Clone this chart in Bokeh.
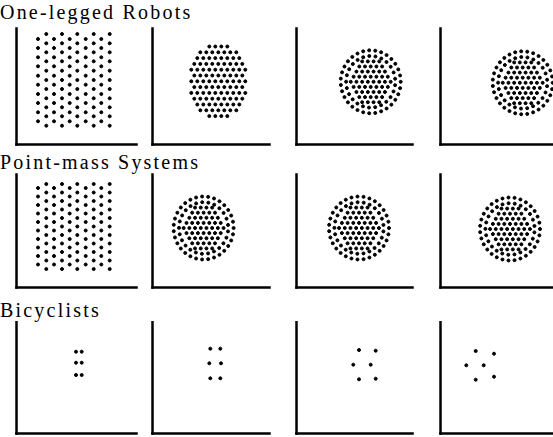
import numpy as np
from bokeh.plotting import figure
from bokeh.layouts import column, row
from bokeh.models import Div, FixedTicker, Range1d
from bokeh.embed import file_html
from bokeh.resources import INLINE

# ---------------- data ----------------
row_titles = ["One-legged Robots", "Point-mass Systems", "Bicyclists"]

# starting hexagonal grid (first panel of rows 1 and 2)
grid_col_x = [23, 31.3, 39, 47, 54.7, 62.3, 70.7, 78.7, 86.3, 94.7]
grid1_y_odd = [107, 98, 88.7, 79.7, 70.3, 61.3, 52, 43, 33.7, 24.7]
grid1_y_even = [112, 102.7, 93.7, 84.7, 75.3, 66, 57, 47.7, 38.7, 29.7, 20.3]
grid2_y_odd = [101, 92.5, 84, 75.5, 67, 58.5, 50, 41.5, 33, 24.5]
grid2_y_even = [105, 96.5, 88, 79.5, 71, 62.5, 54, 45.5, 37, 28.5, 20]

# rounded block (row 1, panel 2): dots per staggered row, top to bottom
blob_row_n = [4, 7, 8, 9, 10, 9, 10, 9, 10, 9, 8, 7, 4]
blob_center = (67.3, 64.7)
blob_step = (6.0, 5.8)

# disc formations: staggered inner core + two outer rings
disc_core_row_n = [4, 5, 6, 7, 8, 7, 6, 5, 4]
disc_core_step = (5.7, 5.1)
disc_ring_frac = [0.82, 1.0]
disc_ring_n = [25, 31]
disc_ring_phase = [0.12, 0.0]
disc_radius = (30.0, 31.5)
# disc centres per panel: (row, col, cx, cy)
disc_centers = [(0, 2, 75.7, 64.2), (0, 3, 83.7, 63.2),
                (1, 1, 52.6, 61.0), (1, 2, 64.0, 61.0), (1, 3, 71.0, 60.0)]

# bicyclists (row 3)
bike_x = [[61, 66.7, 61, 66.7, 61, 66.7],
          [59.3, 69.3, 58.3, 70, 59.3, 69.3],
          [64, 80.7, 58.3, 75.7, 64, 80.7],
          [36.7, 55, 27.3, 44.7, 36.7, 55]]
bike_y = [[83.3, 83.3, 72.3, 72.3, 60, 60],
          [86.3, 86.3, 71.7, 71.7, 56.7, 56.7],
          [85, 84.3, 70.3, 70.3, 55.7, 56.3],
          [84, 81.3, 69.7, 69.7, 55.3, 58.3]]

# ---------------- build point sets ----------------
def grid_points(y_odd, y_even):
    xs, ys = [], []
    for i, cx in enumerate(grid_col_x):
        col = y_odd if i % 2 == 0 else y_even
        xs += [cx] * len(col)
        ys += list(col)
    return xs, ys

def row_formation(counts, center, step):
    cx, cy = center
    dx, dy = step
    k0 = (len(counts) - 1) / 2
    xs, ys = [], []
    for k, n in enumerate(counts):
        for j in range(n):
            xs.append(cx + (j - (n - 1) / 2) * dx)
            ys.append(cy + (k0 - k) * dy)
    return xs, ys

def disc_formation(cx, cy):
    xs, ys = row_formation(disc_core_row_n, (cx, cy), disc_core_step)
    rx, ry = disc_radius
    for f, n, ph in zip(disc_ring_frac, disc_ring_n, disc_ring_phase):
        a = ph + 2 * np.pi * np.arange(n) / n
        xs += list(cx + f * rx * np.cos(a))
        ys += list(cy + f * ry * np.sin(a))
    return xs, ys

points = {}
points[(0, 0)] = grid_points(grid1_y_odd, grid1_y_even)
points[(1, 0)] = grid_points(grid2_y_odd, grid2_y_even)
points[(0, 1)] = row_formation(blob_row_n, blob_center, blob_step)
for r, c, cx, cy in disc_centers:
    points[(r, c)] = disc_formation(cx, cy)
for c in range(4):
    points[(2, c)] = (bike_x[c], bike_y[c])

# ---------------- layout ----------------
frame_w = [120, 117, 116, 113]
border_l = [16, 4, 4, 4]
border_r = [12, 23, 24, 0]
frame_h = [116, 113, 112]
border_t = [5, 1, 0]
border_b = [3, 3, 3]
AX0 = 1.5  # data offset of frame edge from axis-line centre

def panel(r, c):
    w = border_l[c] + frame_w[c] + border_r[c]
    h = border_t[r] + frame_h[r] + border_b[r]
    p = figure(width=w, height=h, output_backend="svg", toolbar_location=None,
               x_range=Range1d(AX0, AX0 + frame_w[c]),
               y_range=Range1d(AX0, AX0 + frame_h[r]),
               min_border_left=border_l[c], min_border_right=border_r[c],
               min_border_top=border_t[r], min_border_bottom=border_b[r])
    p.grid.visible = False
    p.outline_line_color = None
    p.background_fill_color = None
    p.border_fill_color = None
    for ax in (p.xaxis[0], p.yaxis[0]):
        ax.ticker = FixedTicker(ticks=[])
        ax.axis_line_width = 2.5
        ax.axis_line_color = "black"
        ax.axis_line_cap = "square"
        ax.major_tick_line_color = None
        ax.minor_tick_line_color = None
        ax.major_label_text_font_size = "0px"
        ax.major_label_standoff = 0
        ax.major_tick_out = 0
        ax.major_tick_in = 0
    xs, ys = points[(r, c)]
    p.scatter(xs, ys, size=3, marker="circle", color="black")
    return p

title_h = [23, 26, 31]
title_pad = [1.5, 4.5, 10]

items = []
for r in range(3):
    items.append(Div(
        text=('<div style="font-family:\'Liberation Serif\',serif;font-size:20px;'
              'line-height:20px;padding-top:%spx;letter-spacing:2.2px;'
              'white-space:nowrap;color:black">%s</div>'
              % (title_pad[r], row_titles[r])),
        width=553, height=title_h[r], margin=0))
    items.append(row([panel(r, c) for c in range(4)], spacing=0))

layout = column(items, spacing=0)

open("out.html", "w").write(file_html(layout, INLINE))
